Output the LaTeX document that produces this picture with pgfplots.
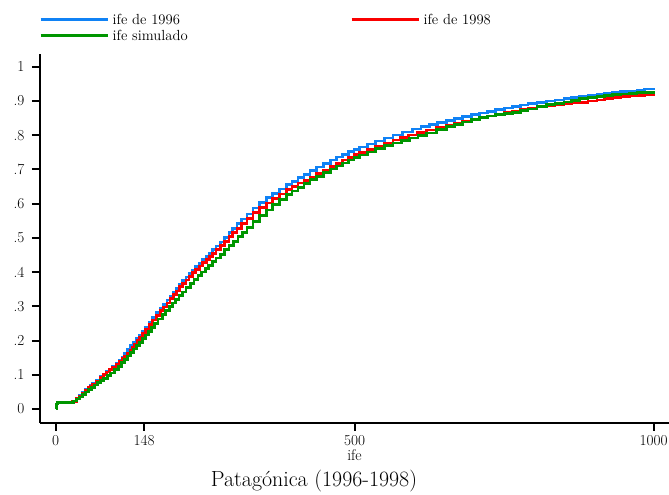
\documentclass[border=0pt]{standalone}
\usepackage{fontspec}
\usepackage{pgfplots}
\pgfplotsset{compat=1.18}
\definecolor{cblue}{RGB}{16,130,245}
\definecolor{cred}{RGB}{250,0,0}
\definecolor{cgreen}{RGB}{0,150,0}
\begin{document}
\begin{tikzpicture}
\begin{axis}[
  name=ax,
  at={(0,0)}, anchor=south west,
  scale only axis,
  width=629bp, height=368.7bp,
  xmin=-26.3, xmax=1025.6,
  ymin=-0.04, ymax=1.037,
  axis lines=left,
  axis line style={-, line width=2.4bp},
  tick align=outside,
  major tick length=8bp,
  tick style={line width=2bp, black},
  xtick={0,148,500,1000},
  xticklabels={0,148,500,1000},
  ytick={0,0.1,0.2,0.3,0.4,0.5,0.6,0.7,0.8,0.9,1},
  yticklabels={0,.1,.2,.3,.4,.5,.6,.7,.8,.9,1},
  ticklabel style={font=\fontsize{15.3}{18}\selectfont},
  xticklabel style={yshift=-1bp},
  yticklabel style={xshift=-4bp},
  xlabel={ife},
  xlabel style={font=\fontsize{15.5}{18}\selectfont, anchor=base, at={(axis description cs:0.5,0)}, yshift=-38bp},
  legend columns=2,
  legend cell align=left,
  legend image code/.code={\draw[#1] (0bp,0bp) -- (67bp,0bp);},
  legend style={draw=none, fill=none, at={(0,1)}, anchor=south west, xshift=-0.7bp, yshift=13.5bp,
    inner sep=0pt, outer sep=0pt, row sep=5.5bp,
    font=\fontsize{14.7}{17}\selectfont,
    nodes={inner sep=0pt, text height=10.5bp, text depth=0bp},
    /tikz/column 1/.style={column sep=3.7bp},
    /tikz/column 2/.style={column sep=162.5bp},
    /tikz/column 3/.style={column sep=3.7bp}},
  every axis plot/.append style={const plot, line width=2.7bp},
]
\addplot[cblue] coordinates {
(0,0.005) (2,0.018) (20,0.02) (28,0.022) (35,0.03) (40,0.04)
(45,.05) (50,.057) (55,.064) (58,.069) (62,.074) (68,.084) (75,.094) (80,.102) (85,.11) (90,.117)
(95,.125) (101,.134) (107,.143) (111,.152) (115,.162) (120,.173) (124,.185) (129,.195) (134,.205)
(140,.215) (145,.226) (150,.238) (156,.253) (162,.267) (168,.281) (175,.295) (180,.306) (186,.318)
(191,.330) (197,.342) (202,.353) (207,.364) (212,.375) (218,.386) (223,.396) (229,.406) (234,.416)
(240,.426) (246,.436) (252,.446) (257,.455) (262,.465) (268,.476) (275,.488) (282,.501) (290,.515)
(296,.528) (303,.541) (311,.555) (320,.57) (330,.587) (341,.603) (352,.617) (363,.63) (374,.643)
(386,.655) (395,.665) (405,.676) (415,.686) (425,.697) (436,.707) (448,.717) (459,.727) (470,.736)
(480,.744) (490,.752) (499,.758) (508,.765)
(521,0.774) (535,0.783) (550,0.792) (564,0.80) (580,0.809) (597,0.818) (611,0.825)
(625,0.831) (639,0.837) (654,0.842) (667,0.848) (680,0.854) (695,0.860) (709,0.865) (722,0.870) (735,0.874)
(750,0.879) (764,0.883) (777,0.888) (790,0.892) (805,0.896)
(821,0.90) (835,0.903) (850,0.906) (863,0.909) (876,0.912) (890,0.915) (905,0.918) (918,0.921) (931,0.924)
(945,0.927) (960,0.929) (972,0.932) (985,0.935) (1003,0.935)
};
\addlegendentry{ife de 1996}
\addplot[cred] coordinates {
(0,0.005) (2,0.018) (20,0.02) (28,0.022)
(35,.030) (40,.038) (45,.047) (50,.055) (55,.062) (58,.067) (62,.072) (68,.082) (75,.092) (80,.100)
(85,.108) (90,.115) (95,.122) (101,.130) (107,.139) (111,.147) (115,.155) (120,.163) (124,.172)
(128,.181) (132,.19) (136,.200) (140,.21) (145,.221) (150,.233) (156,.246) (162,.26) (168,.273)
(175,.287) (180,.298) (186,.31) (191,.322) (197,.334) (202,.345) (207,.357) (212,.367) (218,.377)
(223,.387) (229,.398) (234,.408) (240,.418) (246,.428) (252,.437) (257,.446) (262,.455) (268,.466)
(275,.477) (282,.490) (290,.503) (296,.515) (303,.527) (311,.542) (320,.557) (330,.573) (341,.589)
(352,.602) (363,.615) (374,.628) (386,.641) (395,.650) (405,.66) (415,.668) (425,.677) (436,.688)
(448,.698) (459,.708) (470,.718) (480,.727) (490,.735) (499,.743) (508,.75)
(521,0.759) (535,0.768) (550,0.777) (564,0.786) (577,0.793) (590,0.80) (605,0.808)
(620,0.815) (637,0.822) (654,0.829) (667,0.835) (680,0.840) (695,0.846) (709,0.851) (722,0.856) (735,0.861)
(750,0.866) (764,0.870) (777,0.874) (790,0.878) (805,0.882)
(821,0.886) (835,0.889) (850,0.891) (863,0.894) (876,0.896) (890,0.900) (905,0.903) (918,0.906) (931,0.909)
(945,0.912) (960,0.914) (972,0.916) (985,0.917) (1003,0.917)
};
\addlegendentry{ife de 1998}
\addplot[cgreen] coordinates {
(0,0.0) (1,0.015) (3,0.018) (20,0.02) (30,0.023) (35,0.029)
(40,.035) (45,.042) (50,.05) (55,.056) (60,.063) (65,.070) (70,.077) (75,.083) (80,.09) (86,.097)
(92,.105) (98,.115) (105,.125) (110,.135) (115,.145) (120,.155) (125,.165) (130,.175) (135,.185)
(140,.195) (145,.205) (150,.216) (155,.227) (160,.238) (165,.25) (171,.263) (178,.276) (184,.288)
(190,.3) (195,.31) (200,.32) (206,.331) (212,.342) (218,.354) (225,.366) (231,.378) (238,.39)
(244,.40) (250,.41) (256,.42) (262,.43) (268,.441) (275,.452) (282,.465) (290,.478) (297,.49)
(305,.503) (312,.516) (320,.53) (330,.548) (341,.565) (352,.581) (363,.597) (374,.612) (386,.626)
(395,.637) (405,.648) (415,.659) (425,.67) (436,.68) (448,.691) (459,.701) (470,.71) (480,.719)
(490,.727) (499,.735) (508,.742)
(521,0.751) (535,0.76) (550,0.769) (564,0.777) (578,0.785) (592,0.792) (606,0.799) (620,0.806)
(637,0.816) (654,0.825) (667,0.832) (680,0.838) (695,0.845) (709,0.851) (722,0.856) (735,0.86)
(750,0.863) (764,0.866) (777,0.871) (790,0.876) (805,0.883) (821,0.889)
(835,0.893) (850,0.897) (863,0.902) (876,0.906) (890,0.909) (905,0.912) (918,0.915) (931,0.918)
(945,0.920) (960,0.922) (972,0.924) (985,0.925) (1003,0.925)
};
\addlegendentry{ife simulado}
\end{axis}
\node[anchor=base, font=\fontsize{22}{26}\selectfont, xshift=274bp, yshift=-64bp] at (ax.south west) {Patagónica (1996-1998)};
\pgfresetboundingbox
\path (-40bp,-72.3bp) rectangle (629bp,422.7bp);
\end{tikzpicture}
\end{document}
